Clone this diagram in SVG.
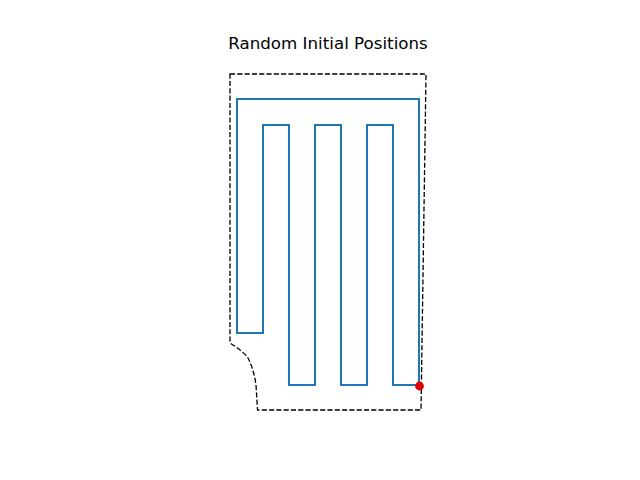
<svg xmlns="http://www.w3.org/2000/svg" width="640" height="480" viewBox="0 0 640 480">
<style>
.bound{fill:none;stroke:#000;stroke-width:1.3;stroke-dasharray:5.1 2.2}
.path{fill:none;stroke:#1f77b4;stroke-width:2;stroke-linejoin:miter;stroke-linecap:square}
.title{font-family:"DejaVu Sans",sans-serif;font-size:16.7px;fill:#000;text-anchor:middle}
</style>
<rect width="640" height="480" fill="#fff"/>
<text class="title" x="328" y="49">Random Initial Positions</text>
<g id="boundary">
<path class="bound" d="M230,74 L426,74 L421,410 L257.5,410 L256,385 Q254,370 248,358 Q244,352 230,343 Z"/>
</g>
<g id="connectors">
<path class="path" d="M237,333 L263,333 L263,125 L289,125 L289,385 L315,385 L315,125 L341,125 L341,385 L367,385 L367,125 L393,125 L393,385 L419,385 L419,99 L237,99 Z"/>
</g>
<g id="start">
<circle cx="419.5" cy="386" r="4.4" fill="#e00000"/>
</g>
</svg>
